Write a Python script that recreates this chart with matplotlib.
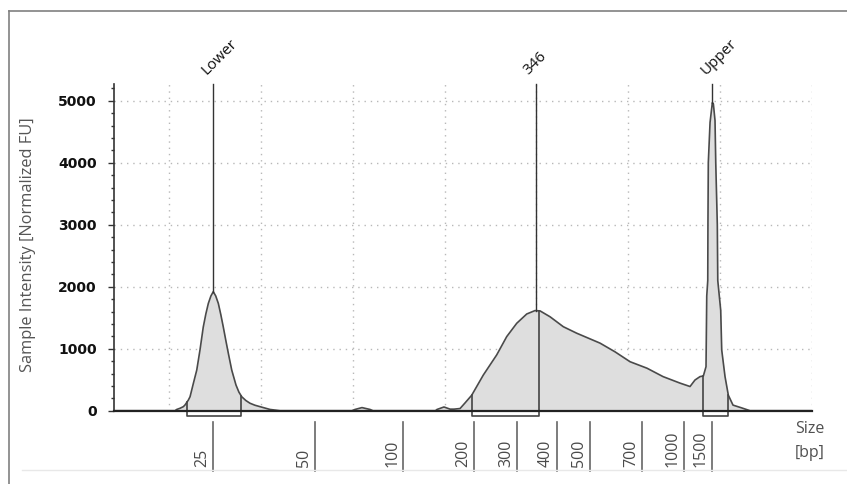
import numpy as np
import matplotlib
matplotlib.use("Agg")
import matplotlib.pyplot as plt
from matplotlib.lines import Line2D
from matplotlib.ticker import MultipleLocator

# electropherogram trace: migration position (grid units) vs intensity
pos = [0.400, 1.064, 1.083, 1.120, 1.155, 1.173, 1.209, 1.228, 1.264, 1.301,
       1.336, 1.372, 1.400, 1.427, 1.455, 1.481, 1.508, 1.536, 1.563, 1.590,
       1.618, 1.645, 1.682, 1.728, 1.760, 1.791, 1.835, 1.881, 1.935, 1.990,
       2.099, 2.208, 2.990, 3.024, 3.100, 3.188, 3.220, 3.900, 3.917,
       3.993, 4.059, 4.102, 4.168, 4.222, 4.295, 4.421, 4.567, 4.676, 4.785,
       4.894, 4.984, 5.039, 5.148, 5.292, 5.438, 5.692, 5.855, 6.019, 6.204,
       6.378, 6.563, 6.672, 6.726, 6.781, 6.817, 6.846, 6.854, 6.865, 6.867,
       6.871, 6.890, 6.915, 6.926, 6.944, 6.952, 6.969, 6.974, 7.006, 7.017,
       7.053, 7.089, 7.140, 7.235, 7.325, 8.000]
fu = [0, 0, 20, 40, 65, 92, 170, 225, 440, 655,
      977, 1350, 1560, 1730, 1850, 1920, 1850, 1730, 1550, 1350,
      1130, 925, 655, 415, 300, 225, 165, 120, 88, 65,
      20, 0, 0, 20, 50, 20, 0, 0, 20,
      60, 25, 25, 35, 125, 250, 575, 900, 1195, 1410,
      1560, 1615, 1610, 1515, 1355, 1250, 1090, 950, 790, 685,
      550, 445, 390, 495, 550, 560, 710, 1850, 2100, 3000,
      4000, 4650, 4970, 4950, 4680, 4000, 3000, 2100, 1620, 980,
      550, 250, 90, 45, 0, 0]

# called peaks
peak_names = ["Lower", "346", "Upper"]
peak_pos = [1.481, 4.992, 6.915]

# integration regions (start, end)
region_start = [1.198, 4.295, 6.817]
region_end = [1.783, 5.028, 7.089]

# size ladder along the bottom
ladder_bp = ["25", "50", "100", "200", "300", "400", "500", "700", "1000", "1500"]
ladder_pos = [1.478, 2.589, 3.547, 4.320, 4.788, 5.224, 5.583, 6.149, 6.606, 6.911]

YMAX = 5270
BRACKET = -85

fig = plt.figure(figsize=(8.47, 4.84), dpi=100)
ax = fig.add_axes([114/847, 73.3/484, 698/847, 326.7/484])

# outer frame of the screenshot
fig.add_artist(Line2D([9/847, 9/847], [0, 1-11/484], color="#808080", lw=1.2))
fig.add_artist(Line2D([9/847, 1], [1-11/484, 1-11/484], color="#808080", lw=1.2))
fig.add_artist(Line2D([22/847, 1], [14/484, 14/484], color="#e8e8e8", lw=1))

ax.fill_between(pos, fu, 0, color="#dedede", lw=0, zorder=2)
ax.plot(pos, fu, color="#4a4a4a", lw=1.2, zorder=3)

for name, p in zip(peak_names, peak_pos):
    top = np.interp(p, pos, fu)
    ax.plot([p, p], [top, YMAX], color="#333333", lw=1, zorder=4, clip_on=False)
    ax.annotate(name, (p, YMAX), xytext=(-5, 6.5), textcoords="offset points",
                rotation=45, rotation_mode="anchor", ha="left", va="baseline",
                fontsize=11, family="Open Sans", color="#111111")

for a, b in zip(region_start, region_end):
    ya = np.interp(a, pos, fu)
    yb = np.interp(b, pos, fu)
    ax.plot([a, a, b, b], [ya, BRACKET, BRACKET, yb], color="#444444", lw=1.2,
            zorder=4, clip_on=False)

tr = ax.get_xaxis_transform()
for lab, p in zip(ladder_bp, ladder_pos):
    ax.plot([p, p], [-0.035, -0.185], color="#666666", lw=1.2, transform=tr, clip_on=False)
    ax.annotate(lab, (p, -0.172), xycoords=tr, xytext=(-5, 0), textcoords="offset points",
                rotation=90, rotation_mode="anchor", ha="left", va="baseline",
                fontsize=11.5, family="Open Sans", color="#4a4a4a")

ax.text(0.9756, -0.069, "Size", transform=ax.transAxes, ha="left", va="baseline",
        fontsize=11.5, family="Open Sans", color="#505050")
ax.text(0.9756, -0.141, "[bp]", transform=ax.transAxes, ha="left", va="baseline",
        fontsize=11.5, family="Open Sans", color="#505050")

ax.set_xlim(0.4, 8.0)
ax.set_ylim(0, YMAX)
ax.set_xticks(range(1, 9))
ax.set_yticks(range(0, 6000, 1000))
ax.yaxis.set_minor_locator(MultipleLocator(200))
ax.tick_params(axis="x", length=0, labelbottom=False)
ax.tick_params(axis="y", which="major", length=4, width=1, color="#333333",
               pad=8.5, labelsize=10, labelcolor="#111111")
ax.tick_params(axis="y", which="minor", length=2.5, width=1, color="#333333")
for t in ax.get_yticklabels():
    t.set_fontweight("bold")
ax.grid(True, color="#b8b8b8", lw=1, linestyle=(0, (1, 3.5)), zorder=1)

for s in ["top", "right"]:
    ax.spines[s].set_visible(False)
ax.spines["left"].set_color("#333333")
ax.spines["left"].set_linewidth(1.2)
ax.spines["bottom"].set_color("#222222")
ax.spines["bottom"].set_linewidth(1.6)
ax.spines["bottom"].set_zorder(5)

ax.set_ylabel("Sample Intensity [Normalized FU]", family="Open Sans", fontsize=11.8,
              color="#555555")
ax.yaxis.set_label_coords(-0.112, 0.507)

fig.savefig("out.png", dpi=100)
